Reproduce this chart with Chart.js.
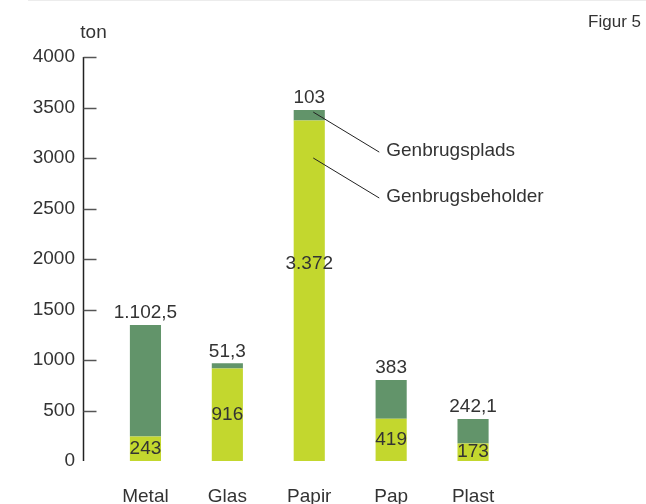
<!DOCTYPE html>
<html>
<head>
<meta charset="utf-8">
<script src="https://cdn.jsdelivr.net/npm/chart.js@4/dist/chart.umd.min.js"></script>
<style>
  html, body { margin: 0; padding: 0; background: #fff; }
  #wrap { width: 646px; height: 504px; position: relative; }
</style>
</head>
<body>
<div id="wrap"><canvas id="myChart" width="646" height="504"></canvas></div>
<script>
var categories = ["Metal", "Glas", "Papir", "Pap", "Plast"];
var beholder = [243, 916, 3372, 419, 173];      // Genbrugsbeholder
var plads = [1102.5, 51.3, 103, 383, 242.1];     // Genbrugsplads
var yTicks = [0, 500, 1000, 1500, 2000, 2500, 3000, 3500, 4000];

var FONT = '"Liberation Sans", Arial, sans-serif';
var TXT = '#333';

// danish number format: 1.102,5
function fmt(v) {
    var parts = String(v).split('.');
    var whole = parts[0].replace(/\B(?=(\d{3})+(?!\d))/g, '.');
    return parts[1] ? whole + ',' + parts[1] : whole;
}

var extras = {
    id: 'extras',
    afterDatasetsDraw: function(chart) {
        var c = chart.ctx, x = chart.scales.x, y = chart.scales.y, area = chart.chartArea;
        c.save();
        // thin rule at top
        c.strokeStyle = '#ececec';
        c.lineWidth = 1;
        c.beginPath(); c.moveTo(28, 0.5); c.lineTo(646, 0.5); c.stroke();

        // y axis line + inward ticks
        var ax = area.left - 21;
        c.strokeStyle = '#222';
        c.lineWidth = 1.5;
        c.beginPath();
        c.moveTo(ax, y.getPixelForValue(4000));
        c.lineTo(ax, y.getPixelForValue(0));
        c.stroke();
        c.strokeStyle = '#555';
        yTicks.forEach(function(t) {
            if (t === 0) return;
            var py = Math.round(y.getPixelForValue(t)) + 0.5;
            c.beginPath(); c.moveTo(ax, py); c.lineTo(ax + 13, py); c.stroke();
        });

        // value labels
        c.font = '19px ' + FONT;
        c.fillStyle = TXT;
        c.textAlign = 'center';
        c.textBaseline = 'middle';
        categories.forEach(function(cat, i) {
            var px = x.getPixelForValue(i);
            var top = y.getPixelForValue(beholder[i] + plads[i]);
            c.fillText(fmt(plads[i]), px, top - 12);
            // tall segments get their label a bit above the middle
            var f = beholder[i] > 2000 ? 0.58 : 0.5;
            c.fillText(fmt(beholder[i]), px, y.getPixelForValue(beholder[i] * f));
        });

        // legend callouts on the Papir bar
        var bx = x.getPixelForValue(2) + 4;
        var p1 = y.getPixelForValue(beholder[2] + plads[2] * 0.8);
        var p2 = y.getPixelForValue(3000);
        c.strokeStyle = '#222';
        c.lineWidth = 1;
        [[p1, 'Genbrugsplads'], [p2, 'Genbrugsbeholder']].forEach(function(d) {
            c.beginPath(); c.moveTo(bx, d[0]); c.lineTo(bx + 66, d[0] + 40); c.stroke();
            c.textAlign = 'left';
            c.fillText(d[1], bx + 73, d[0] + 39);
        });

        // unit and figure label
        c.textAlign = 'center';
        c.fillText('ton', ax + 10, 33);
        c.font = '17px ' + FONT;
        c.textAlign = 'right';
        c.fillText('Figur 5', 641, 22);
        c.restore();
    }
};

var ctx = document.getElementById("myChart").getContext('2d');
var myChart = new Chart(ctx, {
    type: 'bar',
    data: {
        labels: categories,
        datasets: [{
            label: 'Genbrugsbeholder',
            data: beholder,
            backgroundColor: '#c3d72e'
        }, {
            label: 'Genbrugsplads',
            data: plads,
            backgroundColor: '#62946a'
        }]
    },
    options: {
        responsive: false,
        animation: false,
        layout: { padding: { top: 57, right: 132, left: 0, bottom: 0 } },
        plugins: {
            legend: { display: false },
            tooltip: { enabled: false }
        },
        datasets: {
            bar: { barPercentage: 0.38, categoryPercentage: 1 }
        },
        scales: {
            x: {
                stacked: true,
                afterFit: function(scale) { scale.height = 43; },
                grid: { display: false, drawTicks: false },
                border: { display: false },
                ticks: { color: TXT, font: { family: FONT, size: 19 }, padding: 24 }
            },
            y: {
                stacked: true,
                min: 0,
                max: 4000,
                afterFit: function(scale) { scale.width = 104.5; },
                afterBuildTicks: function(scale) {
                    scale.ticks = yTicks.map(function(v) { return { value: v }; });
                },
                grid: { display: false, drawTicks: false },
                border: { display: false },
                ticks: {
                    color: TXT,
                    font: { family: FONT, size: 19 },
                    padding: 29.5,
                    callback: function(v) { return String(v); }
                }
            }
        }
    },
    plugins: [extras]
});
</script>
</body>
</html>
